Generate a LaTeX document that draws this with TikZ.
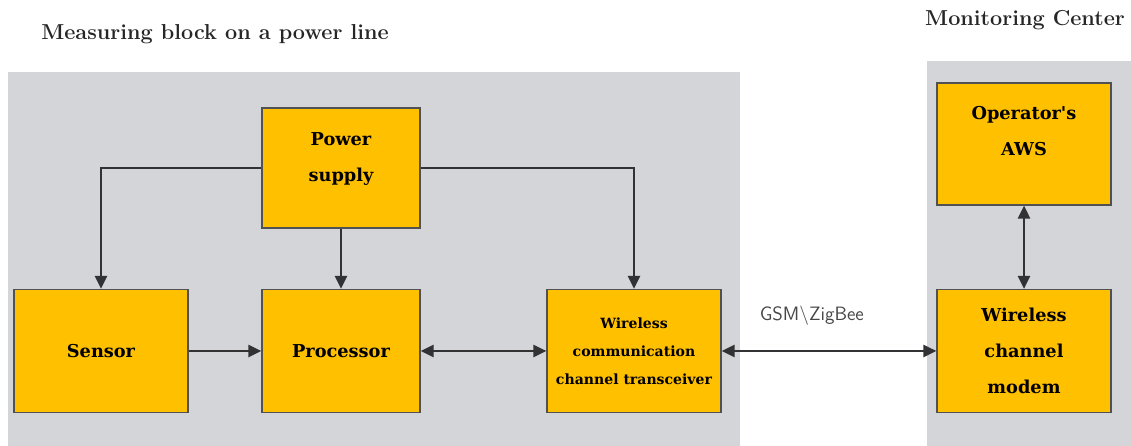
\documentclass[tikz,border=0pt]{standalone}
\usepackage{fontspec}
\newfontfamily\boxfont{DejaVu Serif}
\usetikzlibrary{arrows.meta}
\definecolor{panelgray}{RGB}{212,213,216}
\definecolor{boxyellow}{RGB}{255,192,0}
\definecolor{linegray}{RGB}{50,50,52}
\begin{document}
\begin{tikzpicture}[
  block/.style={draw=linegray!85, line width=0.8pt, fill=boxyellow, align=center, inner sep=0pt, minimum width=3.48cm, minimum height=2.46cm, font=\boxfont\bfseries\fontsize{10.1}{20.5}\selectfont},
  heading/.style={font=\bfseries\fontsize{12.3}{14}\selectfont, text=black!85},
  link/.style={draw=linegray, line width=0.9pt, -{Triangle[length=0.26cm,width=0.25cm]}},
  both/.style={link, {Triangle[length=0.26cm,width=0.25cm]}-{Triangle[length=0.26cm,width=0.25cm]}}
]
\useasboundingbox (0,0) rectangle (22.62,8.92);
\fill[panelgray] (0.16,0) rectangle (14.8,7.48);
\fill[panelgray] (18.54,0) rectangle (22.62,7.7);

\path (4.3,8.24) node[heading](MeasuringTitle){Measuring block on a power line} (20.5,8.52) node[heading](CenterTitle){Monitoring Center};

\path (6.82,5.56) node[block, minimum width=3.16cm, minimum height=2.4cm](Power){Power\\supply\\[-8pt]{}} (2.02,1.9) node[block](Sensor){Sensor} (6.82,1.9) node[block, minimum width=3.16cm](Processor){Processor} (12.68,1.9) node[block, font=\boxfont\bfseries\fontsize{8}{15.9}\selectfont](Transceiver){Wireless\\communication\\channel transceiver} (20.48,6.04) node[block, minimum height=2.44cm](AWS){Operator\textquotesingle s\\AWS\\[-6pt]{}} (20.48,1.9) node[block](Modem){Wireless\\channel\\modem};

\draw[link] (Power.west) -| (Sensor.north);
\draw[link] (Power.east) -| (Transceiver.north);
\draw[link] (Power) -- (Processor);
\draw[link] (Sensor) -- (Processor);
\draw[both] (Processor) -- (Transceiver);
\draw[both] (Transceiver) -- node[pos=0.42, above=0.5cm, inner sep=0pt, font=\sffamily\fontsize{11}{13}\selectfont, text=linegray!90](Link){GSM\textbackslash ZigBee} (Modem);
\draw[both] (AWS) -- (Modem);
\end{tikzpicture}
\end{document}
